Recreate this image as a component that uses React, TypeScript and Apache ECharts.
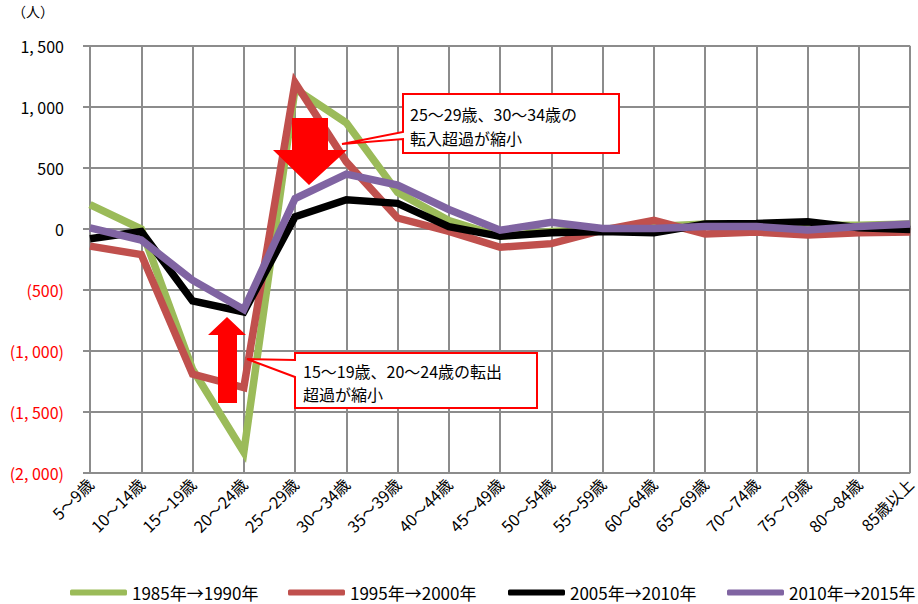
import React, { useEffect, useRef } from "react";
import * as echarts from "echarts";

const categories = [
  "5～9歳", "10～14歳", "15～19歳", "20～24歳", "25～29歳", "30～34歳",
  "35～39歳", "40～44歳", "45～49歳", "50～54歳", "55～59歳", "60～64歳",
  "65～69歳", "70～74歳", "75～79歳", "80～84歳", "85歳以上",
];

const seriesNames = ["1985年→1990年", "1995年→2000年", "2005年→2010年", "2010年→2015年"];

const values1985 = [200, 0, -1150, -1830, 1150, 870, 300, 70, -60, -20, 0, 20, 40, 40, 30, 30, 40];
const values1995 = [-140, -210, -1190, -1300, 1200, 550, 90, -20, -150, -120, -10, 70, -40, -25, -50, -30, -25];
const values2005 = [-80, -20, -590, -680, 100, 240, 210, 20, -60, -30, -20, -30, 40, 45, 60, 10, -5];
const values2010 = [10, -90, -420, -660, 250, 450, 360, 160, -10, 55, 5, 5, 20, 20, -8, 20, 40];

const colors = ["#9BBB59", "#C0504D", "#000000", "#8064A2"];
const legendLefts = [70, 288, 508, 727];

function formatY(v: number): string {
  const abs = Math.abs(v);
  let s = String(abs);
  if (abs >= 1000) {
    s = Math.floor(abs / 1000) + ", " + String(abs % 1000).padStart(3, "0");
  }
  return v < 0 ? "(" + s + ")" : s;
}

export default function App() {
  const ref = useRef<HTMLDivElement>(null);
  useEffect(() => {
    if (!ref.current) return;
    const chart = echarts.init(ref.current, undefined, { renderer: "svg" });
    const font = "'Noto Sans CJK JP', 'Noto Sans', sans-serif";
    const allValues = [values1985, values1995, values2005, values2010];
    chart.setOption({
      animation: false,
      backgroundColor: "#ffffff",
      textStyle: { fontFamily: font },
      grid: { left: 90, right: 4, top: 46, bottom: 131, containLabel: false },
      legend: seriesNames.map((name, i) => ({
        bottom: 3,
        left: legendLefts[i],
        padding: 0,
        itemWidth: 57,
        itemHeight: 6,
        icon: "roundRect",
        textStyle: { fontSize: 17, color: "#000", fontFamily: font },
        data: [name],
      })),
      xAxis: {
        type: "category",
        data: categories,
        boundaryGap: false,
        axisLine: { show: true, lineStyle: { color: "#8c8c8c", width: 2 } },
        axisTick: { show: true, length: 6, interval: 0, lineStyle: { color: "#8c8c8c", width: 2 } },
        splitLine: { show: true, interval: 0, lineStyle: { color: "#8c8c8c", width: 2 } },
        axisLabel: {
          interval: 0,
          rotate: 45,
          fontSize: 16,
          color: "#000",
          fontFamily: font,
          margin: 8,
        },
      },
      yAxis: {
        type: "value",
        min: -2000,
        max: 1500,
        interval: 500,
        axisLine: { show: true, lineStyle: { color: "#8c8c8c", width: 2 } },
        axisTick: { show: true, length: 7, lineStyle: { color: "#8c8c8c", width: 2 } },
        splitLine: { show: true, lineStyle: { color: "#8c8c8c", width: 2 } },
        axisLabel: {
          margin: 26,
          fontSize: 16,
          fontFamily: font,
          formatter: (v: number) => (v < 0 ? "{r|" + formatY(v) + "}" : "{n|" + formatY(v) + "}"),
          rich: {
            n: { color: "#000", fontSize: 16, fontFamily: font },
            r: { color: "#ff0000", fontSize: 16, fontFamily: font },
          },
        },
      },
      series: seriesNames.map((name, i) => ({
        name,
        type: "line",
        data: allValues[i],
        symbol: "none",
        itemStyle: { color: colors[i] },
        lineStyle: { color: colors[i], width: 7.5, join: "miter", cap: "butt" },
        z: 2 + i,
      })),
      graphic: [
        {
          type: "text",
          left: 12,
          top: 4,
          style: { text: "（人）", fontSize: 14, fill: "#000", fontFamily: font },
        },
        {
          type: "polygon",
          z: 100,
          shape: {
            points: [
              [292, 118], [328, 118], [328, 150], [347, 150], [309, 185], [273, 150], [292, 150],
            ],
          },
          style: { fill: "#ff0000" },
        },
        {
          type: "polygon",
          z: 100,
          shape: {
            points: [
              [218, 403], [237, 403], [237, 335], [246, 335], [227, 317], [208, 335], [218, 335],
            ],
          },
          style: { fill: "#ff0000" },
        },
        {
          type: "polygon",
          z: 100,
          shape: {
            points: [
              [403, 94], [619, 94], [619, 153], [403, 153], [403, 139], [342, 144], [403, 132],
            ],
          },
          style: { fill: "#ffffff", stroke: "#ff0000", lineWidth: 2 },
        },
        {
          type: "text",
          z: 101,
          x: 410,
          y: 102,
          style: {
            text: "25～29歳、30～34歳の\n転入超過が縮小",
            fontSize: 16,
            lineHeight: 24,
            fill: "#000",
            fontFamily: font,
          },
        },
        {
          type: "polygon",
          z: 100,
          shape: {
            points: [
              [295, 353], [537, 353], [537, 408], [295, 408], [295, 377], [247, 359], [295, 360],
            ],
          },
          style: { fill: "#ffffff", stroke: "#ff0000", lineWidth: 2 },
        },
        {
          type: "text",
          z: 101,
          x: 303,
          y: 359,
          style: {
            text: "15～19歳、20～24歳の転出\n超過が縮小",
            fontSize: 16,
            lineHeight: 23,
            fill: "#000",
            fontFamily: font,
          },
        },
      ],
    });
    return () => chart.dispose();
  }, []);
  return <div ref={ref} style={{ width: 918, height: 604, position: "absolute", left: 0, top: 0 }} />;
}
